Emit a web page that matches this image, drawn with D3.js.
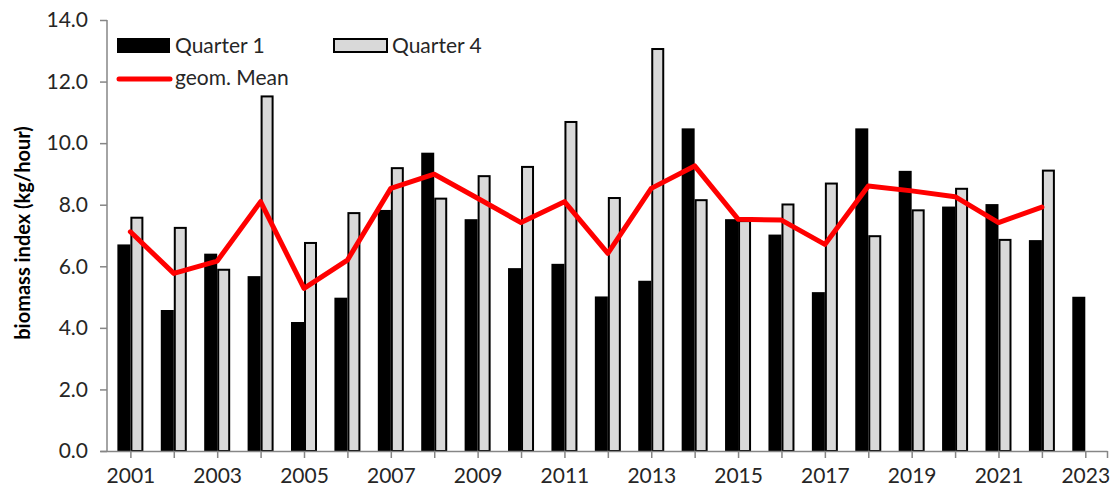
<!DOCTYPE html>
<html>
<head>
<meta charset="utf-8">
<script src="https://cdn.jsdelivr.net/npm/d3@7"></script>
<style>
  html, body { margin: 0; padding: 0; background: #fff; }
  svg { display: block; }
</style>
</head>
<body>
<svg id="chart" width="1115" height="498"></svg>
<script>
const years = [2001,2002,2003,2004,2005,2006,2007,2008,2009,2010,2011,2012,2013,2014,2015,2016,2017,2018,2019,2020,2021,2022,2023];
const quarter1 = [6.71,4.58,6.41,5.68,4.19,4.98,7.83,9.69,7.53,5.94,6.08,5.02,5.53,10.48,7.53,7.03,5.16,10.48,9.10,7.94,8.02,6.85,5.01];
const quarter4 = [7.61,7.28,5.92,11.55,6.79,7.76,9.22,8.23,8.96,9.26,10.72,8.25,13.09,8.18,7.50,8.04,8.72,7.01,7.85,8.55,6.89,9.14,null];
const geomMean = [7.12,5.77,6.17,8.10,5.28,6.20,8.53,8.99,8.21,7.42,8.10,6.42,8.53,9.26,7.53,7.50,6.71,8.61,8.45,8.26,7.42,7.92,null];
const yTicks = [0,2,4,6,8,10,12,14];
const xLabelYears = [2001,2003,2005,2007,2009,2011,2013,2015,2017,2019,2021,2023];
const seriesNames = ["Quarter 1","Quarter 4","geom. Mean"];
const yTitle = "biomass index (kg/hour)";

const svg = d3.select("#chart");
const font = "Lato, 'Open Sans', sans-serif";
const axisColor = "#868686";
const textColor = "#262626";

const x = d3.scaleLinear().domain([2000.3, 2023.5]).range([100, 1107]);
const y = d3.scaleLinear().domain([0, 14]).range([451, 20]);
const barW = 13;

// bars Quarter 1
svg.append("g").selectAll("rect")
  .data(years.map((yr,i)=>({yr, v: quarter1[i]})).filter(d=>d.v!=null))
  .join("rect")
  .attr("x", d => x(d.yr) - barW)
  .attr("y", d => y(d.v))
  .attr("width", barW)
  .attr("height", d => y(0) - y(d.v))
  .attr("fill", "#000");

// bars Quarter 4
svg.append("g").selectAll("rect")
  .data(years.map((yr,i)=>({yr, v: quarter4[i]})).filter(d=>d.v!=null))
  .join("rect")
  .attr("x", d => x(d.yr) + 1)
  .attr("y", d => y(d.v) + 1)
  .attr("width", barW - 2)
  .attr("height", d => y(0) - y(d.v) - 1)
  .attr("fill", "#d9d9d9")
  .attr("stroke", "#000")
  .attr("stroke-width", 2);

// axes
const yAxis = d3.axisLeft(y).tickValues(yTicks).tickFormat(d3.format(".1f")).tickSize(7).tickPadding(12);
const gy = svg.append("g").attr("transform", "translate(107,0)").call(yAxis);
gy.select(".domain").attr("stroke", axisColor).attr("stroke-width", 1.5).attr("d", "M0,20V451");
gy.selectAll(".tick line").attr("stroke", axisColor).attr("stroke-width", 1.5);
gy.selectAll(".tick text").attr("fill", textColor).style("font-family", font).style("font-size", "21px");

const xAxis = d3.axisBottom(x)
  .tickValues(years.concat([2023.5]))
  .tickFormat(d => xLabelYears.includes(d) ? String(d) : "")
  .tickSize(7).tickPadding(10).tickSizeOuter(0);
const gx = svg.append("g").attr("transform", "translate(0,451)").call(xAxis);
gx.select(".domain").attr("stroke", axisColor).attr("stroke-width", 1.5);
gx.selectAll(".tick line").attr("stroke", axisColor).attr("stroke-width", 1.5);
gx.selectAll(".tick text").attr("fill", textColor).style("font-family", font).style("font-size", "21px");

// line
const lineData = years.map((yr,i)=>({yr, v: geomMean[i]})).filter(d=>d.v!=null);
svg.append("path")
  .datum(lineData)
  .attr("fill", "none")
  .attr("stroke", "#ff0000")
  .attr("stroke-width", 5)
  .attr("stroke-linejoin", "round")
  .attr("stroke-linecap", "round")
  .attr("d", d3.line().x(d => x(d.yr)).y(d => y(d.v)));

// y title
svg.append("text")
  .attr("transform", "translate(30,233) rotate(-90)")
  .attr("text-anchor", "middle")
  .attr("fill", "#000")
  .style("font-family", font)
  .style("font-weight", "bold")
  .style("font-size", "20px")
  .text(yTitle);

// legend
const lg = svg.append("g");
lg.append("rect").attr("x", 117).attr("y", 38).attr("width", 53).attr("height", 15).attr("fill", "#000");
lg.append("text").attr("x", 175).attr("y", 53).text(seriesNames[0]);
lg.append("rect").attr("x", 334).attr("y", 39).attr("width", 53).attr("height", 13).attr("fill", "#d9d9d9").attr("stroke", "#000").attr("stroke-width", 2);
lg.append("text").attr("x", 392).attr("y", 53).text(seriesNames[1]);
lg.append("line").attr("x1", 119).attr("x2", 170).attr("y1", 79).attr("y2", 79).attr("stroke", "#ff0000").attr("stroke-width", 5).attr("stroke-linecap", "round");
lg.append("text").attr("x", 175).attr("y", 85).text(seriesNames[2]);
lg.selectAll("text").attr("fill", textColor).style("font-family", font).style("font-size", "21px");
</script>
</body>
</html>
